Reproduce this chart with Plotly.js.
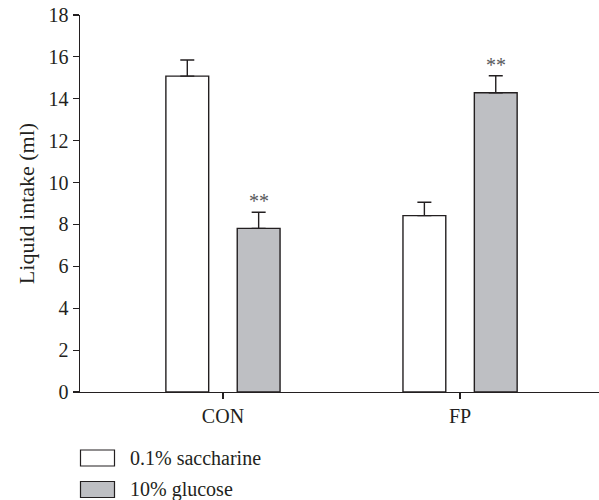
<!DOCTYPE html>
<html>
<head>
<meta charset="utf-8">
<script src="https://cdn.plot.ly/plotly-3.0.1.min.js"></script>
<style>html,body{margin:0;padding:0;background:#fff;}#chart{width:599px;height:500px;}</style>
</head>
<body>
<div id="chart"></div>
<script>
const categories = ["CON", "FP"];
const seriesNames = ["0.1% saccharine", "10% glucose"];
const saccharine = [15.08, 8.42];
const saccharineErr = [0.77, 0.64];
const glucose = [7.81, 14.29];
const glucoseErr = [0.77, 0.81];
const glucoseSig = ["**", "**"];
const yTicks = [0, 2, 4, 6, 8, 10, 12, 14, 16, 18];

const FONT = '"Liberation Serif", "Times New Roman", serif';
const LINE = "#231f20";
const fills = ["#ffffff", "#bebfc3"];
const FS = 20;

const traces = [
  {type: "bar", name: seriesNames[0], x: categories, y: saccharine,
   marker: {color: fills[0], line: {color: LINE, width: 1.4}},
   error_y: {type: "data", array: saccharineErr, symmetric: false, arrayminus: [0, 0], color: LINE, thickness: 1.4, width: 7},
   showlegend: false},
  {type: "bar", name: seriesNames[1], x: categories, y: glucose,
   marker: {color: fills[1], line: {color: LINE, width: 1.4}},
   error_y: {type: "data", array: glucoseErr, symmetric: false, arrayminus: [0, 0], color: LINE, thickness: 1.4, width: 7},
   showlegend: false}
];

const GROUP_OFFSET = 0.1505;
const annotations = categories.map((c, i) => ({
  x: i + GROUP_OFFSET, y: glucose[i] + glucoseErr[i], xref: "x", yref: "y",
  text: glucoseSig[i], showarrow: false, yanchor: "bottom", yshift: -2,
  font: {family: FONT, size: FS, color: "#58595b"}
}));

const PL = 80, PW = 519, PT = 15, PH = 377;
const shapes = [];
seriesNames.forEach((n, i) => {
  const yc = 458 + i * 31.5;
  shapes.push({type: "rect", xref: "paper", yref: "paper",
    x0: (80.5 - PL) / PW, x1: (114.5 - PL) / PW,
    y0: (PT + PH - (yc + 8)) / PH, y1: (PT + PH - (yc - 8)) / PH,
    fillcolor: fills[i], line: {color: LINE, width: 1.2}});
  annotations.push({xref: "paper", yref: "paper", x: (128 - PL) / PW, y: (PT + PH - yc) / PH,
    xanchor: "left", yanchor: "middle", showarrow: false, text: n,
    font: {family: FONT, size: FS, color: "#231f20"}});
});

const layout = {
  width: 599, height: 500,
  margin: {l: PL, r: 0, t: PT, b: 500 - PT - PH},
  paper_bgcolor: "#fff", plot_bgcolor: "#fff",
  font: {family: FONT, size: FS, color: "#231f20"},
  barmode: "group", bargap: 0.398, bargroupgap: 0.40,
  xaxis: {range: [-0.603, 1.586], showline: true, linecolor: LINE, linewidth: 1.4,
    ticks: "outside", ticklen: 6, tickcolor: LINE, tickwidth: 1.2,
    showgrid: false, zeroline: false, tickfont: {family: FONT, size: FS}},
  yaxis: {range: [0, 18], tickvals: yTicks, ticktext: yTicks.map(String),
    showline: true, linecolor: LINE, linewidth: 1.4,
    ticks: "outside", ticklen: 6, tickcolor: LINE, tickwidth: 1.2,
    showgrid: false, zeroline: false, tickfont: {family: FONT, size: FS},
    title: {text: "Liquid intake (ml)", font: {family: FONT, size: 22}, standoff: 8}},
  shapes: shapes,
  annotations: annotations,
  showlegend: false
};

Plotly.newPlot("chart", traces, layout, {displayModeBar: false, staticPlot: true});
</script>
</body>
</html>
